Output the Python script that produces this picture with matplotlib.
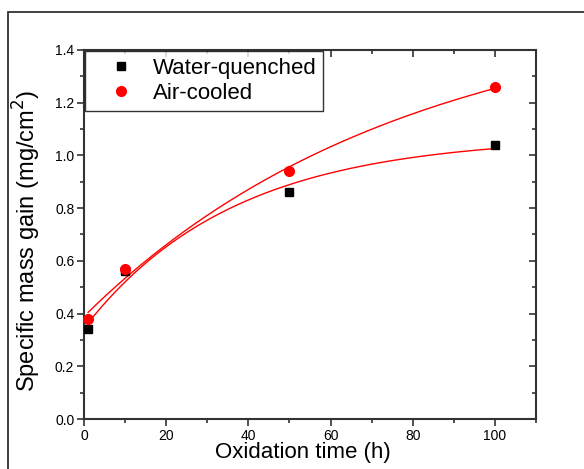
import numpy as np
import matplotlib
matplotlib.use('Agg')
import matplotlib.pyplot as plt
from matplotlib.ticker import MultipleLocator, FormatStrFormatter
from matplotlib.patches import Rectangle

plt.rcParams['font.family'] = ['Liberation Sans', 'DejaVu Sans']

time_h = [1, 10, 50, 100]
water_quenched = [0.34, 0.56, 0.86, 1.04]
air_cooled = [0.38, 0.57, 0.94, 1.26]


def exp_fit(x, y):
    # y = a + b*(1 - exp(-x/t)), grid search on t, least squares for a, b
    x = np.asarray(x, float)
    y = np.asarray(y, float)
    best = None
    for t in np.linspace(5, 400, 2000):
        M = np.column_stack([np.ones_like(x), 1 - np.exp(-x / t)])
        coef, *_ = np.linalg.lstsq(M, y, rcond=None)
        err = np.sum((M @ coef - y) ** 2)
        if best is None or err < best[0]:
            best = (err, coef, t)
    _, (a, b), t = best
    return lambda xx: a + b * (1 - np.exp(-xx / t))


W, H = 584, 469
fig = plt.figure(figsize=(W / 100, H / 100), dpi=100)
fig.patches.append(Rectangle((8 / W, -0.1), 1.2, 1 - 12.5 / H + 0.1,
                             transform=fig.transFigure, fill=False,
                             edgecolor='#333333', linewidth=1.3))
ax = fig.add_axes([84 / W, 1 - 419 / H, 452 / W, 369 / H])

xs = np.linspace(1, 100, 300)
ax.plot(xs, exp_fit(time_h, water_quenched)(xs), color='red', lw=1)
ax.plot(xs, exp_fit(time_h, air_cooled)(xs), color='red', lw=1)
ax.plot(time_h, water_quenched, 's', color='black', ms=5.8, label='Water-quenched',
        clip_on=False, zorder=3)
ax.plot(time_h, air_cooled, 'o', color='red', ms=7, label='Air-cooled',
        clip_on=False, zorder=3)

ax.set_xlim(0, 110)
ax.set_ylim(0, 1.4)
ax.xaxis.set_major_locator(MultipleLocator(20))
ax.xaxis.set_minor_locator(MultipleLocator(10))
ax.yaxis.set_major_locator(MultipleLocator(0.2))
ax.yaxis.set_minor_locator(MultipleLocator(0.1))
ax.yaxis.set_major_formatter(FormatStrFormatter('%.1f'))

ax.tick_params(which='major', direction='out', length=5, width=1.2,
               labelsize=10, pad=2, color='#333333')
ax.tick_params(which='minor', direction='out', length=3, width=1.2, color='#333333')
ax.tick_params(which='both', top=True, right=True)
for spine in ax.spines.values():
    spine.set_linewidth(1.5)
    spine.set_color('#333333')
# top and right ticks point inward
for t in ax.xaxis.get_major_ticks() + ax.xaxis.get_minor_ticks():
    t.tick2line.set_marker(matplotlib.markers.TICKDOWN)
for t in ax.yaxis.get_major_ticks() + ax.yaxis.get_minor_ticks():
    t.tick2line.set_marker(matplotlib.markers.TICKLEFT)

ax.set_xlabel('Oxidation time (h)', fontsize=16)
ax.xaxis.set_label_coords(0.485, -0.063)
ax.set_ylabel('Specific mass gain (mg/cm$^2$)', fontsize=17)
ax.yaxis.set_label_coords(-0.09, 0.482)

leg = ax.legend(loc='upper left', bbox_to_anchor=(0, 1.0), fontsize=16,
                frameon=True, fancybox=False, edgecolor='black',
                borderaxespad=0.05, handletextpad=0.15, borderpad=0.3,
                labelspacing=0.2, handlelength=2.6)
leg.get_frame().set_linewidth(1)

fig.savefig('out.png', dpi=100)
